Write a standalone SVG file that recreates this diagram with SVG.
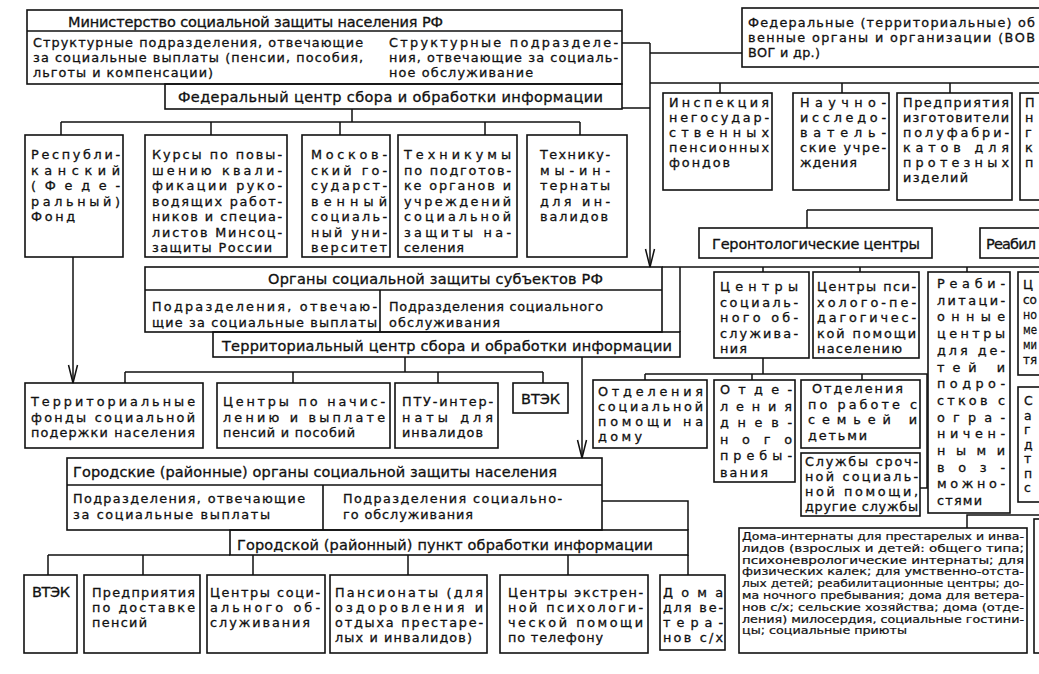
<svg xmlns="http://www.w3.org/2000/svg" width="1039" height="674" viewBox="0 0 1039 674">
<defs>
<style>
.b{fill:none;stroke:#111;stroke-width:1.6}
.c{fill:none;stroke:#111;stroke-width:1.5}
text{font-family:"DejaVu Sans","Liberation Sans",sans-serif;font-size:12.8px;fill:#111;stroke:#111;stroke-width:0.3}
.h{font-size:14.5px}
.s{font-size:10.1px;stroke-width:0.2}
.p2{font-size:12.4px}
</style>
<marker id="arr" viewBox="-20 -6 22 12" refX="0" refY="0" markerWidth="22" markerHeight="12" markerUnits="userSpaceOnUse" orient="auto">
<path d="M-18,-4.5 L0,0 L-18,4.5" fill="none" stroke="#111" stroke-width="1.5"/>
</marker>
</defs>
<rect width="1039" height="674" fill="#fff"/>

<g id="connectors">
<path class="c" d="M622,43 H650 M650,53 H742 M622,108 H650"/>
<path class="c" d="M650,43 V267" marker-end="url(#arr)"/>
<path class="c" d="M650,83 H1039 M720,83 V93 M842,83 V93 M950,83 V93"/>
<path class="c" d="M352,109 V122 M61,122 H580 M61,122 V135 M211,122 V135 M340,122 V135 M485,122 V135 M580,122 V135"/>
<path class="c" d="M73,257 V383" marker-end="url(#arr)"/>
<path class="c" d="M807,210 H1039 M807,210 V228"/>
<path class="c" d="M662,267 H1039 M763,267 V272 M860,267 V272 M967,267 V272 M680,267 V332"/>
<path class="c" d="M405,357 V372 M125,372 H543 M125,372 V383 M293,372 V383 M438,372 V383 M543,372 V383"/>
<path class="c" d="M582,357 V458" marker-end="url(#arr)"/>
<path class="c" d="M645,374 H927 V488 H920 M763,358 V374 M645,374 V380 M752,374 V380 M862,374 V380"/>
<path class="c" d="M602,501 H688 V530"/>
<path class="c" d="M48,555 H230 M48,555 V575 M143,555 V575 M253,555 V575 M408,555 V575 M568,555 V575 M688,555 V575"/>
<path class="c" d="M967,528 V515 H1039"/>
</g>

<g id="ministry">
<rect class="b" x="27" y="10" width="595" height="74"/>
<path class="b" d="M27,31 H622"/>
<text class="h" x="68" y="27" textLength="375">Министерство социальной защиты населения РФ</text>
<text><tspan x="33" y="47" textLength="330">Структурные подразделения, отвечающие</tspan><tspan x="33" y="62" textLength="330">за социальные выплаты (пенсии, пособия,</tspan><tspan x="33" y="77" textLength="180">льготы и компенсации)</tspan></text>
<text><tspan x="389" y="47" textLength="229">Структурные подразделе-</tspan><tspan x="389" y="62" textLength="229">ния, отвечающие за социаль-</tspan><tspan x="389" y="77" textLength="144">ное обслуживание</tspan></text>
</g>

<g id="fed-center">
<rect class="b" x="165" y="84" width="457" height="25"/>
<text class="h" x="178" y="102" textLength="425">Федеральный центр сбора и обработки информации</text>
</g>

<g id="federal-orgs">
<rect class="b" x="742" y="8" width="310" height="59"/>
<text><tspan x="748" y="27" textLength="287">Федеральные (территориальные) об</tspan><tspan x="748" y="42" textLength="287">венные органы и организации (ВОВ</tspan><tspan x="748" y="57" textLength="72">ВОГ и др.)</tspan></text>
</g>

<g id="inspection">
<rect class="b" x="663" y="93" width="109" height="97"/>
<text><tspan x="669" y="107" textLength="100">Инспекция</tspan><tspan x="669" y="122" textLength="100">негосудар-</tspan><tspan x="669" y="137" textLength="100">ственных</tspan><tspan x="669" y="152" textLength="100">пенсионных</tspan><tspan x="669" y="167" textLength="61">фондов</tspan></text>
</g>

<g id="research">
<rect class="b" x="793" y="93" width="96" height="97"/>
<text><tspan x="800" y="107" textLength="86">Научно-</tspan><tspan x="800" y="122" textLength="86">исследо-</tspan><tspan x="800" y="137" textLength="86">ватель-</tspan><tspan x="800" y="152" textLength="86">ские учре-</tspan><tspan x="800" y="167" textLength="57">ждения</tspan></text>
</g>

<g id="prosthetics">
<rect class="b" x="897" y="93" width="115" height="107"/>
<text><tspan x="903" y="107" textLength="106">Предприятия</tspan><tspan x="903" y="122" textLength="106">изготовители</tspan><tspan x="903" y="137" textLength="106">полуфабри-</tspan><tspan x="903" y="152" textLength="106">катов для</tspan><tspan x="903" y="167" textLength="106">протезных</tspan><tspan x="903" y="182" textLength="65">изделий</tspan></text>
</g>

<g id="partial-top">
<rect class="b" x="1020" y="93" width="30" height="107"/>
<text><tspan x="1025" y="107">П</tspan><tspan x="1025" y="122">н</tspan><tspan x="1025" y="137">г</tspan><tspan x="1025" y="152">к</tspan><tspan x="1025" y="167">п</tspan></text>
</g>

<g id="republic-fund">
<rect class="b" x="25" y="135" width="98" height="122"/>
<text><tspan x="31" y="159" textLength="89">Республи-</tspan><tspan x="31" y="174.5" textLength="89">канский</tspan><tspan x="31" y="190" textLength="89">(Феде-</tspan><tspan x="31" y="205.5" textLength="89">ральный)</tspan><tspan x="31" y="221" textLength="44">Фонд</tspan></text>
</g>

<g id="courses">
<rect class="b" x="145" y="135" width="142" height="122"/>
<text><tspan x="152" y="159" textLength="130">Курсы по повы-</tspan><tspan x="152" y="174.5" textLength="130">шению квали-</tspan><tspan x="152" y="190" textLength="130">фикации руко-</tspan><tspan x="152" y="205.5" textLength="130">водящих работ-</tspan><tspan x="152" y="221" textLength="130">ников и специа-</tspan><tspan x="152" y="236.5" textLength="130">листов Минсоц-</tspan><tspan x="152" y="252" textLength="120">защиты России</tspan></text>
</g>

<g id="moscow-univ">
<rect class="b" x="302" y="135" width="88" height="122"/>
<text><tspan x="311" y="159" textLength="76">Москов-</tspan><tspan x="311" y="174.5" textLength="76">ский го-</tspan><tspan x="311" y="190" textLength="76">сударст-</tspan><tspan x="311" y="205.5" textLength="76">венный</tspan><tspan x="311" y="221" textLength="76">социаль-</tspan><tspan x="311" y="236.5" textLength="76">ный уни-</tspan><tspan x="311" y="252" textLength="76">верситет</tspan></text>
</g>

<g id="technicums">
<rect class="b" x="398" y="135" width="119" height="122"/>
<text><tspan x="404" y="159" textLength="107">Техникумы</tspan><tspan x="404" y="174.5" textLength="107">по подготов-</tspan><tspan x="404" y="190" textLength="107">ке органов и</tspan><tspan x="404" y="205.5" textLength="107">учреждений</tspan><tspan x="404" y="221" textLength="107">социальной</tspan><tspan x="404" y="236.5" textLength="107">защиты на-</tspan><tspan x="404" y="252" textLength="60">селения</tspan></text>
</g>

<g id="technicum-boarding">
<rect class="b" x="527" y="135" width="100" height="122"/>
<text><tspan x="540" y="159" textLength="70">Технику-</tspan><tspan x="540" y="174.5" textLength="70">мы-ин-</tspan><tspan x="540" y="190" textLength="70">тернаты</tspan><tspan x="540" y="205.5" textLength="70">для ин-</tspan><tspan x="540" y="221" textLength="68">валидов</tspan></text>
</g>

<g id="gerontology">
<rect class="b" x="699" y="228" width="233" height="30"/>
<text class="h" x="712" y="249" textLength="208">Геронтологические центры</text>
</g>

<g id="rehab-top">
<rect class="b" x="980" y="228" width="70" height="30"/>
<text class="h" x="986" y="249" textLength="50">Реабил</text>
</g>

<g id="subject-organs">
<rect class="b" x="145" y="267" width="517" height="65"/>
<path class="b" d="M145,290 H662 M380,290 V332"/>
<text class="h" x="268" y="284" textLength="335">Органы социальной защиты субъектов РФ</text>
<text><tspan x="152" y="311" textLength="225">Подразделения, отвечаю-</tspan><tspan x="152" y="326.5" textLength="225">щие за социальные выплаты</tspan></text>
<text><tspan x="389" y="311" textLength="214">Подразделения социального</tspan><tspan x="389" y="326.5" textLength="111">обслуживания</tspan></text>
</g>

<g id="territorial-center">
<rect class="b" x="213" y="332" width="467" height="25"/>
<text class="h" x="222" y="351" textLength="450">Территориальный центр сбора и обработки информации</text>
</g>

<g id="social-service-centers">
<rect class="b" x="714" y="272" width="95" height="86"/>
<text><tspan x="720" y="291" textLength="78">Центры</tspan><tspan x="720" y="306.5" textLength="78">социаль-</tspan><tspan x="720" y="322" textLength="78">ного об-</tspan><tspan x="720" y="337.5" textLength="78">служива-</tspan><tspan x="720" y="353" textLength="27">ния</tspan></text>
</g>

<g id="psych-ped-centers">
<rect class="b" x="813" y="272" width="106" height="86"/>
<text><tspan x="817" y="291" textLength="99">Центры пси-</tspan><tspan x="817" y="306.5" textLength="99">холого-пе-</tspan><tspan x="817" y="322" textLength="99">дагогичес-</tspan><tspan x="817" y="337.5" textLength="99">кой помощи</tspan><tspan x="817" y="353" textLength="85">населению</tspan></text>
</g>

<g id="rehab-children">
<rect class="b" x="928" y="272" width="82" height="241"/>
<text><tspan x="937" y="288" textLength="68">Реаби-</tspan><tspan x="937" y="304.7" textLength="68">литаци-</tspan><tspan x="937" y="321.4" textLength="68">онные</tspan><tspan x="937" y="338.1" textLength="68">центры</tspan><tspan x="937" y="354.8" textLength="68">для де-</tspan><tspan x="937" y="371.5" textLength="68">тей и</tspan><tspan x="937" y="388.2" textLength="68">подро-</tspan><tspan x="937" y="404.9" textLength="68">стков с</tspan><tspan x="937" y="421.6" textLength="68">огра-</tspan><tspan x="937" y="438.3" textLength="68">ничен-</tspan><tspan x="937" y="455" textLength="68">ными</tspan><tspan x="937" y="471.7" textLength="68">воз-</tspan><tspan x="937" y="488.4" textLength="68">можно-</tspan><tspan x="937" y="505.1" textLength="45">стями</tspan></text>
</g>

<g id="partial-right-1">
<rect class="b" x="1018" y="272" width="30" height="103"/>
<text><tspan x="1023" y="289">Ц</tspan><tspan x="1023" y="304" textLength="14" lengthAdjust="spacingAndGlyphs">со</tspan><tspan x="1023" y="319" textLength="14" lengthAdjust="spacingAndGlyphs">но</tspan><tspan x="1023" y="334" textLength="14" lengthAdjust="spacingAndGlyphs">ме</tspan><tspan x="1023" y="349" textLength="14" lengthAdjust="spacingAndGlyphs">ми</tspan><tspan x="1023" y="364" textLength="14" lengthAdjust="spacingAndGlyphs">тя</tspan></text>
</g>

<g id="partial-right-2">
<rect class="b" x="1018" y="387" width="30" height="115"/>
<text class="p2"><tspan x="1024" y="405">С</tspan><tspan x="1024" y="419.5">а</tspan><tspan x="1024" y="434">г</tspan><tspan x="1024" y="448.5">д</tspan><tspan x="1024" y="463">т</tspan><tspan x="1024" y="477.5">п</tspan><tspan x="1024" y="492">с</tspan></text>
</g>

<g id="territorial-funds">
<rect class="b" x="25" y="383" width="178" height="65"/>
<text><tspan x="31" y="406" textLength="164">Территориальные</tspan><tspan x="31" y="421.5" textLength="164">фонды социальной</tspan><tspan x="31" y="437" textLength="164">подержки населения</tspan></text>
</g>

<g id="pension-centers">
<rect class="b" x="217" y="383" width="173" height="65"/>
<text><tspan x="223" y="406" textLength="162">Центры по начис-</tspan><tspan x="223" y="421.5" textLength="162">лению и выплате</tspan><tspan x="223" y="437" textLength="132">пенсий и пособий</tspan></text>
</g>

<g id="ptu">
<rect class="b" x="395" y="383" width="103" height="65"/>
<text><tspan x="402" y="406" textLength="91">ПТУ-интер-</tspan><tspan x="402" y="421.5" textLength="91">наты для</tspan><tspan x="402" y="437" textLength="81">инвалидов</tspan></text>
</g>

<g id="vtek-1">
<rect class="b" x="513" y="383" width="55" height="30"/>
<text class="h" x="521" y="404" textLength="39">ВТЭК</text>
</g>

<g id="home-aid">
<rect class="b" x="593" y="380" width="114" height="68"/>
<text><tspan x="598" y="396" textLength="105">Отделения</tspan><tspan x="598" y="411" textLength="105">социальной</tspan><tspan x="598" y="426" textLength="105">помощи на</tspan><tspan x="598" y="441" textLength="44">дому</tspan></text>
</g>

<g id="day-stay">
<rect class="b" x="714" y="380" width="81" height="102"/>
<text><tspan x="720" y="394" textLength="72">Отде-</tspan><tspan x="720" y="410.5" textLength="72">ления</tspan><tspan x="720" y="427" textLength="72">днев-</tspan><tspan x="720" y="443.5" textLength="72">ного</tspan><tspan x="720" y="460" textLength="72">пребы-</tspan><tspan x="720" y="476.5" textLength="48">вания</tspan></text>
</g>

<g id="family-work">
<rect class="b" x="801" y="380" width="119" height="68"/>
<text><tspan x="812" y="393" textLength="91">Отделения</tspan><tspan x="808" y="408.5" textLength="109">по работе с</tspan><tspan x="808" y="424" textLength="109">семьей и</tspan><tspan x="808" y="439.5" textLength="59">детьми</tspan></text>
</g>

<g id="urgent-services">
<rect class="b" x="801" y="453" width="119" height="63"/>
<text><tspan x="805" y="466" textLength="113">Службы сроч-</tspan><tspan x="805" y="481" textLength="113">ной социаль-</tspan><tspan x="805" y="496" textLength="113">ной помощи,</tspan><tspan x="805" y="511" textLength="113">другие службы</tspan></text>
</g>

<g id="city-organs">
<rect class="b" x="67" y="458" width="535" height="72"/>
<path class="b" d="M67,485 H602 M323,485 V530"/>
<text class="h" x="73" y="477" textLength="484">Городские (районные) органы социальной защиты населения</text>
<text><tspan x="73" y="503" textLength="232">Подразделения, отвечающие</tspan><tspan x="73" y="518.5" textLength="197">за социальные выплаты</tspan></text>
<text><tspan x="343" y="503" textLength="219">Подразделения социально-</tspan><tspan x="343" y="518.5" textLength="130">го обслуживания</tspan></text>
</g>

<g id="city-point">
<rect class="b" x="230" y="530" width="458" height="25"/>
<text class="h" x="237" y="550" textLength="416">Городской (районный) пункт обработки информации</text>
</g>

<g id="vtek-2">
<rect class="b" x="24" y="575" width="53" height="78"/>
<text class="h" x="32" y="597" textLength="38">ВТЭК</text>
</g>

<g id="pension-delivery">
<rect class="b" x="84" y="575" width="116" height="78"/>
<text><tspan x="92" y="597" textLength="103">Предприятия</tspan><tspan x="92" y="612" textLength="103">по доставке</tspan><tspan x="92" y="627" textLength="55">пенсий</tspan></text>
</g>

<g id="social-service-centers-2">
<rect class="b" x="207" y="575" width="118" height="78"/>
<text><tspan x="210" y="597" textLength="110">Центры соци-</tspan><tspan x="210" y="612" textLength="110">ального об-</tspan><tspan x="210" y="627" textLength="100">служивания</tspan></text>
</g>

<g id="boarding-houses">
<rect class="b" x="330" y="575" width="157" height="78"/>
<text><tspan x="335" y="597" textLength="148">Пансионаты (для</tspan><tspan x="335" y="612" textLength="148">оздоровления и</tspan><tspan x="335" y="627" textLength="148">отдыха престаре-</tspan><tspan x="335" y="642" textLength="137">лых и инвалидов)</tspan></text>
</g>

<g id="phone-help">
<rect class="b" x="500" y="575" width="148" height="78"/>
<text><tspan x="508" y="597" textLength="135">Центры экстрен-</tspan><tspan x="508" y="612" textLength="135">ной психологи-</tspan><tspan x="508" y="627" textLength="135">ческой помощи</tspan><tspan x="508" y="642" textLength="95">по телефону</tspan></text>
</g>

<g id="veteran-homes">
<rect class="b" x="660" y="575" width="65" height="75"/>
<text><tspan x="663" y="597" textLength="60">Дома</tspan><tspan x="663" y="612" textLength="60">для ве-</tspan><tspan x="663" y="627" textLength="60">тера-</tspan><tspan x="663" y="642" textLength="60">нов с/х</tspan></text>
</g>

<g id="boarding-homes">
<rect class="b" x="739" y="528" width="288" height="125"/>
<text class="s"><tspan x="742" y="540" textLength="282" lengthAdjust="spacingAndGlyphs">Дома-интернаты для престарелых и инва-</tspan><tspan x="742" y="551.8" textLength="282" lengthAdjust="spacingAndGlyphs">лидов (взрослых и детей: общего типа;</tspan><tspan x="742" y="563.6" textLength="282" lengthAdjust="spacingAndGlyphs">психоневрологические интернаты; для</tspan><tspan x="742" y="575.4" textLength="282" lengthAdjust="spacingAndGlyphs">физических калек; для умственно-отста-</tspan><tspan x="742" y="587.2" textLength="282" lengthAdjust="spacingAndGlyphs">лых детей; реабилитационные центры; до-</tspan><tspan x="742" y="599" textLength="282" lengthAdjust="spacingAndGlyphs">ма ночного пребывания; дома для ветера-</tspan><tspan x="742" y="610.8" textLength="282" lengthAdjust="spacingAndGlyphs">нов с/х; сельские хозяйства; дома (отде-</tspan><tspan x="742" y="622.6" textLength="282" lengthAdjust="spacingAndGlyphs">ления) милосердия, социальные гостини-</tspan><tspan x="742" y="634.4" textLength="165" lengthAdjust="spacingAndGlyphs">цы; социальные приюты</tspan></text>
</g>

<g id="partial-right-3">
<rect class="b" x="1034" y="519" width="20" height="134"/>
</g>
</svg>
